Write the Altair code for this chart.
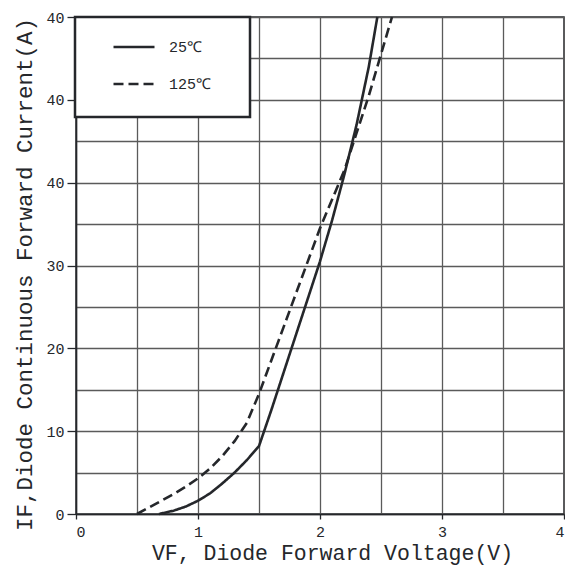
import altair as alt
import pandas as pd

# 25 °C curve (solid)
vf_25 = [0.68, 0.8, 0.9, 1.0, 1.1, 1.2, 1.3, 1.4, 1.5, 1.6, 1.7, 1.8, 1.9, 2.0, 2.1, 2.2, 2.3, 2.4, 2.47]
if_25 = [0.0, 0.4, 0.9, 1.6, 2.5, 3.7, 5.0, 6.5, 8.2, 12.5, 17.0, 21.5, 26.0, 30.5, 35.5, 41.0, 47.0, 54.0, 60.0]

# 125 °C curve (dashed)
vf_125 = [0.5, 0.6, 0.7, 0.8, 0.9, 1.0, 1.1, 1.2, 1.3, 1.4, 1.5, 1.6, 1.7, 1.8, 1.9, 2.0, 2.1, 2.2, 2.3, 2.4, 2.5, 2.59]
if_125 = [0.0, 0.8, 1.6, 2.4, 3.3, 4.3, 5.5, 7.0, 8.8, 11.0, 14.5, 18.5, 22.5, 26.5, 30.5, 34.5, 38.0, 41.5, 46.0, 50.5, 55.5, 60.0]

series_names = ["25℃", "125℃"]

x_grid_values = [0, 0.5, 1, 1.5, 2, 2.5, 3, 3.5, 4]
y_grid_values = [0, 5, 10, 15, 20, 25, 30, 35, 40, 45, 50, 55, 60]
y_tick_values = [0, 10, 20, 30, 40, 50, 60]
y_tick_labels = ["0", "10", "20", "30", "40", "40", "40"]

df = pd.concat([
    pd.DataFrame({"VF": vf_25, "IF": if_25, "series": series_names[0], "order": range(len(vf_25))}),
    pd.DataFrame({"VF": vf_125, "IF": if_125, "series": series_names[1], "order": range(len(vf_125))}),
])

# label expression built from the tick-label list
ylab_expr = ""
for v, lab in zip(y_tick_values, y_tick_labels):
    ylab_expr += f"datum.value == {v} ? '{lab}' : "
ylab_expr += "''"

FONT = "Liberation Mono"
INK = "#25272b"

lines = alt.Chart(df).mark_line(strokeWidth=2.6, color=INK).encode(
    x=alt.X("VF:Q",
            scale=alt.Scale(domain=[0, 4], nice=False),
            axis=alt.Axis(values=x_grid_values,
                          labelExpr="datum.value % 1 == 0 ? format(datum.value, 'd') : ''",
                          title="VF, Diode Forward Voltage(V)",
                          tickSize=5,
                          tickOpacity={"condition": {"test": "datum.value % 1 == 0", "value": 1}, "value": 0},
                          labelPadding=5,
                          titlePadding=3,
                          titleX=256)),
    y=alt.Y("IF:Q",
            scale=alt.Scale(domain=[0, 60], nice=False),
            axis=alt.Axis(values=y_grid_values,
                          labelExpr=ylab_expr,
                          title="IF,Diode Continuous Forward Current(A)",
                          tickSize=9,
                          tickOpacity={"condition": {"test": "datum.value % 10 == 0", "value": 1}, "value": 0},
                          labelPadding=3,
                          titlePadding=9,
                          titleY=257)),
    strokeDash=alt.StrokeDash("series:N",
                              scale=alt.Scale(domain=series_names, range=[[1, 0], [10, 5]]),
                              legend=alt.Legend(title=None, orient="none", legendX=36, legendY=8,
                                                symbolType="stroke", symbolSize=1681,
                                                symbolStrokeWidth=2.6, symbolStrokeColor=INK,
                                                labelFont=FONT, labelFontSize=15, labelColor=INK,
                                                labelOffset=13, rowPadding=7, padding=0)),
    order="order:Q",
)

box = alt.Chart(pd.DataFrame({"k": [0]})).mark_rect(
    fill="white", stroke=INK, strokeWidth=2.5
).encode(
    x=alt.value(-1), x2=alt.value(174), y=alt.value(0), y2=alt.value(100)
)

chart = alt.layer(lines, box).properties(
    width=488, height=497,
    autosize=alt.AutoSizeParams(type="none"),
    padding={"left": 68, "top": 9, "right": 1, "bottom": 52},
).configure_view(
    stroke=INK, strokeWidth=1.5
).configure_axis(
    grid=True, gridColor="#5a5a5a", gridWidth=1.3,
    domainColor=INK, domainWidth=1.5,
    tickColor=INK, tickWidth=1.3,
    labelFont=FONT, labelFontSize=15, labelColor=INK,
    titleFont=FONT, titleFontWeight="normal", titleColor=INK,
).configure_axisX(
    titleFontSize=21.5
).configure_axisY(
    titleFontSize=22.5
)

chart.save("out.html", embed_options={"renderer": "svg", "actions": False})
